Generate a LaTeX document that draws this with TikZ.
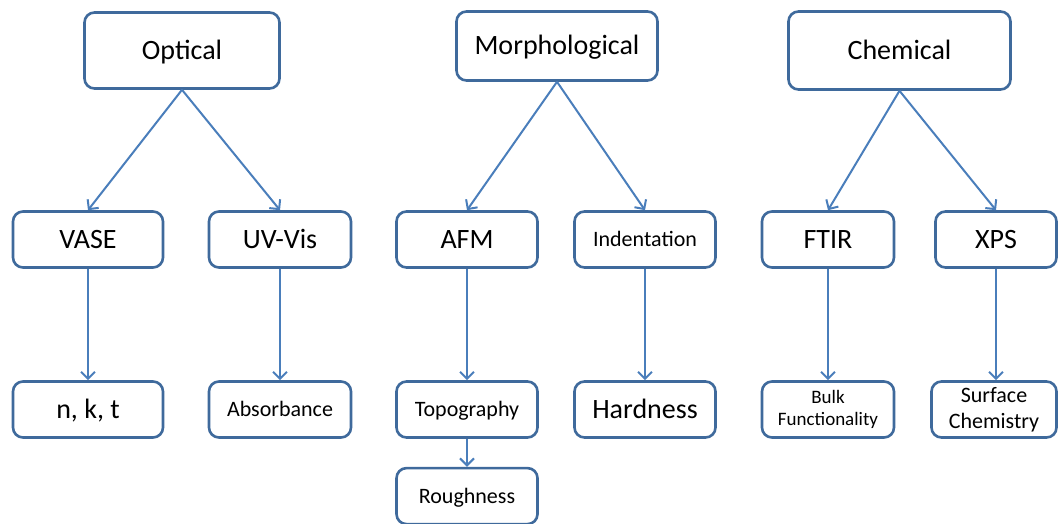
\documentclass[tikz,border=0pt]{standalone}
\usepackage{fontspec}
\setmainfont{Carlito}
\usepackage{xcolor}
\usetikzlibrary{arrows.meta,positioning}
\definecolor{boxline}{HTML}{3F6A9C}
\definecolor{arrline}{HTML}{4A7EBB}

\begin{document}
\begin{tikzpicture}[x=1pt,y=-1pt,
  frame/.style={draw=boxline,line width=2.6pt,rounded corners=10pt,fill=white,
                inner sep=0pt,align=center,minimum height=56pt},
  box/.style={frame,text height=18pt,text depth=0pt,font=\fontsize{28}{32}\selectfont},
  small/.style={text height=14pt,font=\fontsize{22}{26}\selectfont},
  arr/.style={-{Straight Barb[length=7pt,width=14pt]},draw=arrline,line width=2pt}
]
\useasboundingbox (0,0) rectangle (1059,524);

% top row
\node[box,minimum width=195pt,minimum height=76pt] (optical) at (182,50.5) {Optical};
\node[box,minimum width=201pt,minimum height=69pt] (morph) at (557,46) {Morphological};
\node[box,minimum width=222pt,minimum height=78pt] (chem) at (899.5,50.5) {Chemical};

% techniques
\node[box,minimum width=150pt] (vase) at (88,239.5) {VASE};
\node[box,minimum width=142pt] (uvvis) at (280,239.5) {UV-Vis};
\node[box,minimum width=141pt] (afm) at (467,239.5) {AFM};
\node[box,small,minimum width=141pt] (indent) at (645,239.5) {Indentation};
\node[box,minimum width=132pt] (ftir) at (828,239.5) {FTIR};
\node[box,minimum width=121pt] (xps) at (996,239.5) {XPS};

% results
\node[box,minimum width=150pt] (nkt) at (88,409.5) {n, k, t};
\node[box,small,minimum width=142pt] (absorb) at (280,409.5) {Absorbance};
\node[box,small,minimum width=141pt] (topo) at (467,409.5) {Topography};
\node[box,minimum width=141pt] (hard) at (645,409.5) {Hardness};
\node[frame,font=\fontsize{19}{22}\selectfont,minimum width=132pt] (bulk) at (828,409.5) {Bulk\\Functionality};
\node[frame,font=\fontsize{22}{26}\selectfont,minimum width=125pt] (surf) at (994,409.5) {Surface\\Chemistry};
\node[box,small,minimum width=141pt,below=28pt of topo] (rough) {Roughness};

\draw[arr] (optical.south)--(vase.north);
\draw[arr] (optical.south)--(uvvis.north);
\draw[arr] (morph.south)--(afm.north);
\draw[arr] (morph.south)--(indent.north);
\draw[arr] (chem.south)--(ftir.north);
\draw[arr] (chem.south)--(xps.north);

\draw[arr] (vase)--(nkt);
\draw[arr] (uvvis)--(absorb);
\draw[arr] (afm)--(topo);
\draw[arr] (indent)--(hard);
\draw[arr] (ftir)--(bulk);
\draw[arr] (xps.south)--(xps.south|-surf.north);
\draw[arr] (topo)--(rough);
\end{tikzpicture}
\end{document}
